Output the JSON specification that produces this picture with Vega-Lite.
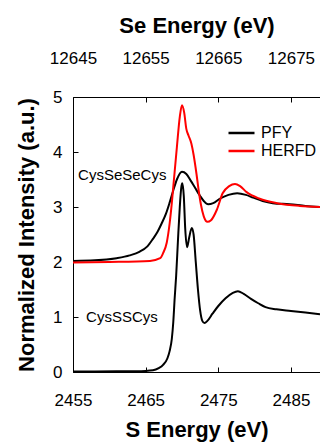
{
  "$schema": "https://vega.github.io/schema/vega-lite/v6.json",
  "width": 247,
  "height": 275,
  "autosize": "none",
  "padding": {"left": 73, "top": 97, "right": 0, "bottom": 70},
  "background": "white",
  "config": {
    "view": {"stroke": null},
    "font": "Liberation Sans",
    "axis": {
      "domainColor": "black", "domainWidth": 1, "tickColor": "black", "tickWidth": 1, "tickSize": -5,
      "labelFont": "Liberation Sans", "labelFontSize": 17, "labelColor": "black",
      "labelFlush": false, "labelOverlap": false, "labelBound": false,
      "titleFont": "Liberation Sans", "titleFontSize": 22, "titleFontWeight": "bold", "titleColor": "black",
      "grid": false
    },
    "axisBottom": {"labelPadding": 25, "titlePadding": 11},
    "axisTop": {"labelPadding": 35, "titlePadding": 12},
    "axisLeft": {"labelPadding": 16, "titlePadding": 14}
  },
  "datasets": {
    "s": [
      {"energy": 2455, "intensity": 0.01}, {"energy": 2458, "intensity": 0.01}, {"energy": 2461, "intensity": 0.012},
      {"energy": 2463, "intensity": 0.015}, {"energy": 2465, "intensity": 0.02}, {"energy": 2466, "intensity": 0.03},
      {"energy": 2466.8, "intensity": 0.07}, {"energy": 2467.4, "intensity": 0.13}, {"energy": 2468.0, "intensity": 0.25},
      {"energy": 2468.3, "intensity": 0.38}, {"energy": 2468.6, "intensity": 0.6}, {"energy": 2468.8, "intensity": 0.9},
      {"energy": 2469.0, "intensity": 1.35}, {"energy": 2469.2, "intensity": 1.75}, {"energy": 2469.45, "intensity": 2.4},
      {"energy": 2469.7, "intensity": 3.0}, {"energy": 2469.9, "intensity": 3.35}, {"energy": 2470.05, "intensity": 3.43},
      {"energy": 2470.25, "intensity": 3.2}, {"energy": 2470.45, "intensity": 2.6}, {"energy": 2470.7, "intensity": 2.27},
      {"energy": 2471.0, "intensity": 2.45}, {"energy": 2471.35, "intensity": 2.62}, {"energy": 2471.6, "intensity": 2.5},
      {"energy": 2471.9, "intensity": 2.0}, {"energy": 2472.2, "intensity": 1.5}, {"energy": 2472.5, "intensity": 1.12},
      {"energy": 2472.8, "intensity": 0.93}, {"energy": 2473.1, "intensity": 0.89}, {"energy": 2473.5, "intensity": 0.93},
      {"energy": 2474.2, "intensity": 1.06}, {"energy": 2475.0, "intensity": 1.2}, {"energy": 2476.0, "intensity": 1.34},
      {"energy": 2477.0, "intensity": 1.44}, {"energy": 2477.7, "intensity": 1.47}, {"energy": 2478.5, "intensity": 1.42},
      {"energy": 2479.5, "intensity": 1.33}, {"energy": 2480.5, "intensity": 1.25}, {"energy": 2481.5, "intensity": 1.18},
      {"energy": 2483, "intensity": 1.14}, {"energy": 2485, "intensity": 1.11}, {"energy": 2487, "intensity": 1.08},
      {"energy": 2489, "intensity": 1.05}
    ],
    "labels": [
      {"energy": 2455.7, "intensity": 3.49, "label": "CysSeSeCys"},
      {"energy": 2456.8, "intensity": 0.915, "label": "CysSSCys"}
    ],
    "se": [
      {"series": "PFY", "energy": 12645, "intensity": 2.02}, {"series": "PFY", "energy": 12648, "intensity": 2.03},
      {"series": "PFY", "energy": 12651, "intensity": 2.07}, {"series": "PFY", "energy": 12652.8, "intensity": 2.12},
      {"series": "PFY", "energy": 12654.2, "intensity": 2.19}, {"series": "PFY", "energy": 12655.2, "intensity": 2.28},
      {"series": "PFY", "energy": 12656.0, "intensity": 2.42}, {"series": "PFY", "energy": 12656.6, "intensity": 2.54},
      {"series": "PFY", "energy": 12657.2, "intensity": 2.7}, {"series": "PFY", "energy": 12657.8, "intensity": 2.88},
      {"series": "PFY", "energy": 12658.3, "intensity": 3.08}, {"series": "PFY", "energy": 12658.8, "intensity": 3.3},
      {"series": "PFY", "energy": 12659.3, "intensity": 3.5}, {"series": "PFY", "energy": 12660.0, "intensity": 3.64},
      {"series": "PFY", "energy": 12660.6, "intensity": 3.6}, {"series": "PFY", "energy": 12661.2, "intensity": 3.48},
      {"series": "PFY", "energy": 12661.8, "intensity": 3.35}, {"series": "PFY", "energy": 12662.5, "intensity": 3.2},
      {"series": "PFY", "energy": 12663.0, "intensity": 3.11}, {"series": "PFY", "energy": 12663.6, "intensity": 3.05},
      {"series": "PFY", "energy": 12664.3, "intensity": 3.07}, {"series": "PFY", "energy": 12665.2, "intensity": 3.15},
      {"series": "PFY", "energy": 12666.4, "intensity": 3.22}, {"series": "PFY", "energy": 12667.6, "intensity": 3.25},
      {"series": "PFY", "energy": 12668.8, "intensity": 3.22}, {"series": "PFY", "energy": 12669.8, "intensity": 3.17},
      {"series": "PFY", "energy": 12671.1, "intensity": 3.11}, {"series": "PFY", "energy": 12672.5, "intensity": 3.07},
      {"series": "PFY", "energy": 12674.8, "intensity": 3.05}, {"series": "PFY", "energy": 12677, "intensity": 3.02},
      {"series": "PFY", "energy": 12679, "intensity": 3.0},
      {"series": "HERFD", "energy": 12645, "intensity": 1.99}, {"series": "HERFD", "energy": 12650, "intensity": 2.0},
      {"series": "HERFD", "energy": 12655.6, "intensity": 2.02}, {"series": "HERFD", "energy": 12657.0, "intensity": 2.07},
      {"series": "HERFD", "energy": 12657.4, "intensity": 2.16}, {"series": "HERFD", "energy": 12657.9, "intensity": 2.35},
      {"series": "HERFD", "energy": 12658.3, "intensity": 2.7}, {"series": "HERFD", "energy": 12658.6, "intensity": 3.07},
      {"series": "HERFD", "energy": 12658.8, "intensity": 3.36}, {"series": "HERFD", "energy": 12659.3, "intensity": 4.09},
      {"series": "HERFD", "energy": 12659.7, "intensity": 4.64}, {"series": "HERFD", "energy": 12660.0, "intensity": 4.85},
      {"series": "HERFD", "energy": 12660.3, "intensity": 4.72}, {"series": "HERFD", "energy": 12660.6, "intensity": 4.42},
      {"series": "HERFD", "energy": 12660.9, "intensity": 4.3}, {"series": "HERFD", "energy": 12661.3, "intensity": 4.15},
      {"series": "HERFD", "energy": 12661.6, "intensity": 3.95}, {"series": "HERFD", "energy": 12662.0, "intensity": 3.6},
      {"series": "HERFD", "energy": 12662.3, "intensity": 3.3}, {"series": "HERFD", "energy": 12662.6, "intensity": 3.05},
      {"series": "HERFD", "energy": 12663.0, "intensity": 2.83}, {"series": "HERFD", "energy": 12663.5, "intensity": 2.73},
      {"series": "HERFD", "energy": 12664.0, "intensity": 2.76}, {"series": "HERFD", "energy": 12664.8, "intensity": 2.95},
      {"series": "HERFD", "energy": 12665.6, "intensity": 3.25}, {"series": "HERFD", "energy": 12666.5, "intensity": 3.38},
      {"series": "HERFD", "energy": 12667.3, "intensity": 3.42}, {"series": "HERFD", "energy": 12668.0, "intensity": 3.38},
      {"series": "HERFD", "energy": 12668.9, "intensity": 3.27}, {"series": "HERFD", "energy": 12670.7, "intensity": 3.15},
      {"series": "HERFD", "energy": 12673.1, "intensity": 3.07}, {"series": "HERFD", "energy": 12676.2, "intensity": 3.02},
      {"series": "HERFD", "energy": 12679, "intensity": 3.0}
    ]
  },
  "layer": [
    {
      "layer": [
        {
          "data": {"name": "s"},
          "mark": {"type": "line", "color": "black", "strokeWidth": 2, "interpolate": "monotone"},
          "encoding": {
            "x": {"field": "energy", "type": "quantitative",
                  "scale": {"domain": [2455, 2489], "nice": false, "zero": false},
                  "axis": {"orient": "bottom", "title": "S Energy (eV)", "values": [2455, 2465, 2475, 2485], "format": "d"}},
            "y": {"field": "intensity", "type": "quantitative",
                  "scale": {"domain": [0, 5], "nice": false, "zero": false},
                  "axis": {"title": "Normalized Intensity (a.u.)", "values": [0, 1, 2, 3, 4, 5]}}
          }
        },
        {
          "data": {"name": "labels"},
          "mark": {"type": "text", "align": "left", "baseline": "alphabetic", "fontSize": 15, "font": "Liberation Sans", "color": "black"},
          "encoding": {
            "x": {"field": "energy", "type": "quantitative"},
            "y": {"field": "intensity", "type": "quantitative"},
            "text": {"field": "label"}
          }
        }
      ]
    },
    {
      "data": {"name": "se"},
      "layer": [
        {
          "transform": [{"filter": "datum.series === 'PFY'"}],
          "mark": {"type": "line", "strokeWidth": 2, "interpolate": "monotone"},
          "encoding": {
            "x": {"field": "energy", "type": "quantitative",
                  "scale": {"domain": [12645, 12679], "nice": false, "zero": false},
                  "axis": {"orient": "top", "title": "Se Energy (eV)", "values": [12645, 12655, 12665, 12675], "format": "d"}},
            "y": {"field": "intensity", "type": "quantitative"},
            "color": {"field": "series", "type": "nominal",
                      "scale": {"domain": ["PFY", "HERFD"], "range": ["black", "red"]},
                      "legend": {"title": null, "orient": "none", "legendX": 160.5, "legendY": 28, "symbolType": "M-2,0H2",
                                 "symbolSize": 169, "symbolStrokeWidth": 2.5, "labelFontSize": 16, "labelOffset": 11.5,
                                 "rowPadding": 2, "padding": 0, "labelFont": "Liberation Sans", "labelColor": "black"}}
          }
        },
        {
          "transform": [{"filter": "datum.series === 'HERFD'"}],
          "mark": {"type": "line", "strokeWidth": 2, "interpolate": "monotone"},
          "encoding": {
            "x": {"field": "energy", "type": "quantitative"},
            "y": {"field": "intensity", "type": "quantitative"},
            "color": {"field": "series", "type": "nominal"}
          }
        }
      ]
    }
  ],
  "resolve": {"scale": {"x": "independent"}, "axis": {"x": "independent"}}
}
